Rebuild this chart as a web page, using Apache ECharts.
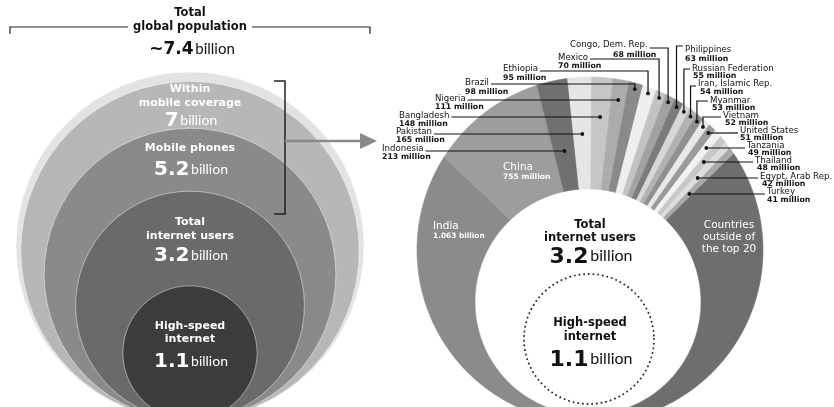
<!DOCTYPE html>
<html><head><meta charset="utf-8">
<script src="https://cdn.jsdelivr.net/npm/echarts/dist/echarts.min.js"></script>
<style>html,body{margin:0;padding:0;background:#fff}#c{width:834px;height:407px}</style>
</head><body><div id="c"></div>
<script>
// ---------------- data ----------------
const popNames = [['Total', 'global population'], ['Within', 'mobile coverage'], ['Mobile phones'], ['Total', 'internet users'], ['High-speed', 'internet']];
const popValues = [7.4, 7, 5.2, 3.2, 1.1];           // billion people
const countries = ['India', 'China', 'Indonesia', 'Pakistan', 'Bangladesh', 'Nigeria', 'Brazil', 'Ethiopia', 'Mexico',
  'Congo, Dem. Rep.', 'Philippines', 'Russian Federation', 'Iran, Islamic Rep.', 'Myanmar', 'Vietnam', 'United States',
  'Tanzania', 'Thailand', 'Egypt, Arab Rep.', 'Turkey', 'Countries outside of the top 20'];
const offlineMillions = [1063, 755, 213, 165, 148, 111, 98, 95, 70, 68, 63, 55, 54, 53, 52, 51, 49, 48, 42, 41, 1150];
const valueLabels = ['1.063 billion', '755 million', '213 million', '165 million', '148 million', '111 million', '98 million',
  '95 million', '70 million', '68 million', '63 million', '55 million', '54 million', '53 million', '52 million', '51 million',
  '49 million', '48 million', '42 million', '41 million', ''];

// ---------------- styles / layout ----------------
const sliceColors = ['#8b8b8b', '#9d9d9d', '#707070', '#e6e6e6', '#c6c6c6', '#acacac', '#8a8a8a', '#efefef', '#c3c3c3',
  '#a2a2a2', '#7b7b7b', '#d8d8d8', '#b2b2b2', '#909090', '#e9e9e9', '#9b9b9b', '#f2f2f2', '#c8c8c8', '#dddddd', '#a9a9a9', '#6e6e6e'];
const circleColors = ['#e3e3e3', '#b7b7b7', '#8a8a8a', '#6a6a6a', '#3c3c3c'];
const FONT = '"DejaVu Sans", sans-serif';
const LFONT = 'Lato, sans-serif';

// [nameX, nameY, valueX, valueY, lineY, kind, side]
const labelLayout = [null, null,
  [382, 149, 382, 157, 151, 'h', 'L'],
  [396, 132, 396, 140, 134, 'h', 'L'],
  [399, 116, 399, 124, 117, 'h', 'L'],
  [435, 99, 435, 107, 100, 'h', 'L'],
  [465, 83, 465, 92, 84, 'v', 'L'],
  [503, 69, 503, 78, 71, 'v', 'L'],
  [558, 58, 558, 66, 59, 'v', 'L'],
  [570, 45, 613, 55, 48, 'v', 'L'],
  [685, 50, 685, 59, 46, 'v', 'R'],
  [692, 69, 693, 76, 69, 'v', 'R'],
  [698, 84, 700, 92, 86, 'v', 'R'],
  [710, 101, 712, 108, 101, 'v', 'R'],
  [723, 116, 725, 123, 117, 'v', 'R'],
  [740, 131, 740, 138, 133, 'h', 'R'],
  [747, 146, 748, 153, 148, 'h', 'R'],
  [755, 161, 757, 168, 162, 'h', 'R'],
  [760, 177, 762, 184, 178, 'h', 'R'],
  [767, 192, 767, 200, 194, 'h', 'R'],
  null];

// geometry of the crescent ring
const P = {x: 590, y: 295};                 // origin of slice rays
const OUT = {x: 590, y: 250, r: 173};       // outer boundary
const INN = {x: 588, y: 302, r: 113};       // inner white disc (internet users)
const DOT = {x: 589, y: 339, r: 65};        // dotted disc (high-speed)
const START = 180;

const rad = d => d * Math.PI / 180;
function rayHit(C, th) {
  const ux = Math.sin(rad(th)), uy = -Math.cos(rad(th));
  const dx = P.x - C.x, dy = P.y - C.y;
  const b = dx * ux + dy * uy, cc = dx * dx + dy * dy - C.r * C.r;
  return -b + Math.sqrt(b * b - cc);
}
function pt(th, t) { return [P.x + t * Math.sin(rad(th)), P.y - t * Math.cos(rad(th))]; }

// area-proportional angles
const STEP = 0.05, N = Math.round(360 / STEP);
const cum = [0];
for (let k = 0; k < N; k++) {
  const th = START + (k + 0.5) * STEP;
  const ro = rayHit(OUT, th), ri = rayHit(INN, th);
  cum.push(cum[k] + 0.5 * (ro * ro - ri * ri) * rad(STEP));
}
const totalArea = cum[N];
function angleAt(frac) {
  const target = frac * totalArea;
  let k = 0;
  while (k < N && cum[k + 1] < target) k++;
  const f = (target - cum[k]) / ((cum[k + 1] - cum[k]) || 1);
  return START + (k + Math.min(1, Math.max(0, f))) * STEP;
}
const sumOff = offlineMillions.reduce((a, b) => a + b, 0);
const bounds = [START];
let acc = 0;
offlineMillions.forEach(v => { acc += v; bounds.push(angleAt(acc / sumOff)); });

function slicePoly(a, b) {
  const pts = [], n = Math.max(2, Math.ceil((b - a) / 0.4));
  for (let k = 0; k <= n; k++) { const th = a + (b - a) * k / n; pts.push(pt(th, rayHit(OUT, th))); }
  for (let k = n; k >= 0; k--) { const th = a + (b - a) * k / n; pts.push(pt(th, rayHit(INN, th))); }
  return pts;
}

const mctx = document.createElement('canvas').getContext('2d');
function textW(s, size, weight) { mctx.font = (weight || 'normal') + ' ' + size + 'px ' + FONT; return mctx.measureText(s).width; }

function tx(x, y, text, size, weight, color, align, family, extra) {
  const st = {x, y, text, fontSize: size, fontWeight: weight || 'normal', fontFamily: family || FONT, fill: color,
    textAlign: align || 'center', align: align || 'center', textVerticalAlign: 'middle', verticalAlign: 'middle'};
  return Object.assign({type: 'text', silent: true, style: st}, extra || {});
}
function numTx(x, y, num, nSize, uSize, color, extra) {
  const pad = Math.round((nSize - uSize) * 0.55 + 1);
  return Object.assign({type: 'text', silent: true, style: {
    x, y, text: '{n|' + num + '}{s| }{u|billion}', fill: color,
    textAlign: 'center', align: 'center', textVerticalAlign: 'middle', verticalAlign: 'middle',
    rich: {
      n: {fontSize: nSize, fontWeight: 'bold', fontFamily: FONT, fill: color, verticalAlign: 'bottom'},
      s: {fontSize: uSize * 0.45, fontFamily: LFONT, fill: color, verticalAlign: 'bottom'},
      u: {fontSize: uSize, fontFamily: LFONT, fill: color, verticalAlign: 'bottom', padding: [0, 0, pad, 0]}
    }}}, extra || {});
}

// ---------------- left: nested circles ----------------
const LC = {x: 190, y: 420, r0: 174};
const graphics = [];
popValues.forEach((v, i) => {
  const r = LC.r0 * Math.sqrt(v / popValues[0]);
  graphics.push({type: 'circle', z: 1, silent: true, shape: {cx: LC.x, cy: LC.y - r, r},
    style: {fill: circleColors[i], stroke: 'rgba(255,255,255,0.45)', lineWidth: 1}});
});
// title block
graphics.push(tx(190, 13, popNames[0][0], 11.5, 'bold', '#111'));
graphics.push(tx(190, 27, popNames[0][1], 11.5, 'bold', '#111'));
graphics.push(numTx(192, 50, '~' + popValues[0], 17, 15, '#111'));
graphics.push({type: 'polyline', z: 5, silent: true, shape: {points: [[10, 34], [10, 27], [128, 27]]}, style: {stroke: '#222', lineWidth: 1.2, fill: null}});
graphics.push({type: 'polyline', z: 5, silent: true, shape: {points: [[252, 27], [370, 27], [370, 34]]}, style: {stroke: '#222', lineWidth: 1.2, fill: null}});
// circle texts
const W = '#fff';
graphics.push(tx(190, 89, popNames[1][0], 11, 'bold', W, 'center', FONT, {z: 10}));
graphics.push(tx(190, 103, popNames[1][1], 11, 'bold', W, 'center', FONT, {z: 10}));
graphics.push(numTx(191, 121, popValues[1], 20, 14, W, {z: 10}));
graphics.push(tx(190, 148, popNames[2][0], 11, 'bold', W, 'center', FONT, {z: 10}));
graphics.push(numTx(191, 170, popValues[2], 20, 14, W, {z: 10}));
graphics.push(tx(190, 222, popNames[3][0], 11, 'bold', W, 'center', FONT, {z: 10}));
graphics.push(tx(190, 236, popNames[3][1], 11, 'bold', W, 'center', FONT, {z: 10}));
graphics.push(numTx(191, 256, popValues[3], 20, 14, W, {z: 10}));
graphics.push(tx(190, 326, popNames[4][0], 11, 'bold', W, 'center', FONT, {z: 10}));
graphics.push(tx(190, 339, popNames[4][1], 11, 'bold', W, 'center', FONT, {z: 10}));
graphics.push(numTx(191, 362, popValues[4], 20, 14, W, {z: 10}));
// bracket + arrow
graphics.push({type: 'polyline', z: 10, silent: true, shape: {points: [[274, 81], [285, 81], [285, 214], [274, 214]]}, style: {stroke: '#222', lineWidth: 1.5, fill: null}});
graphics.push({type: 'line', z: 10, silent: true, shape: {x1: 285, y1: 141, x2: 362, y2: 141}, style: {stroke: '#8a8a8a', lineWidth: 2.5}});
graphics.push({type: 'polygon', z: 10, silent: true, shape: {points: [[360, 133], [377, 141], [360, 149]]}, style: {fill: '#8a8a8a'}});

// ---------------- right: centre texts ----------------
graphics.push({type: 'circle', z: 10, silent: true, shape: {cx: DOT.x, cy: DOT.y, r: DOT.r},
  style: {fill: null, stroke: '#222', lineWidth: 1.9, lineDash: [0.1, 4.6], lineCap: 'round'}});
graphics.push(tx(590, 225, popNames[3][0], 11.5, 'bold', '#111', 'center', FONT, {z: 10}));
graphics.push(tx(590, 238, popNames[3][1], 11.5, 'bold', '#111', 'center', FONT, {z: 10}));
graphics.push(numTx(591, 257, popValues[3], 22, 16, '#111', {z: 10}));
graphics.push(tx(590, 323, popNames[4][0], 11.5, 'bold', '#111', 'center', FONT, {z: 10}));
graphics.push(tx(590, 337, popNames[4][1], 11.5, 'bold', '#111', 'center', FONT, {z: 10}));
graphics.push(numTx(591, 360, popValues[4], 22, 16, '#111', {z: 10}));

// ---------------- custom series renderer ----------------
function renderItem(params, api) {
  const i = params.dataIndex;
  const a = bounds[i], b = bounds[i + 1], mid = (a + b) / 2;
  const ch = [{type: 'polygon', shape: {points: slicePoly(a, b)}, style: {fill: sliceColors[i], stroke: sliceColors[i], lineWidth: 0.6}}];
  const L = labelLayout[i];
  if (L) {
    const [nx, ny, vx, vy, ly, kind, side] = L;
    let dot;
    if (kind === 'h') {
      const t = (P.y - ly) / Math.cos(rad(mid));
      dot = pt(mid, t);
      dot[1] = ly;
    } else {
      dot = pt(mid, rayHit(OUT, mid) - 6);
    }
    const sx = side === 'L' ? nx + textW(countries[i], 8.6) + 2 : nx - 2;
    const pts = kind === 'h' ? [[sx, ly], dot] : [[sx, ly], [dot[0], ly], dot];
    ch.push({type: 'polyline', z2: 20, shape: {points: pts}, style: {stroke: '#111', lineWidth: 1.2, fill: null}});
    ch.push({type: 'circle', z2: 21, shape: {cx: dot[0], cy: dot[1], r: 1.9}, style: {fill: '#111'}});
    ch.push(tx(nx, ny, countries[i], 8.6, 'normal', '#111', 'left', FONT, {z2: 22}));
    ch.push(tx(vx, vy, valueLabels[i], 7.8, 'bold', '#111', 'left', FONT, {z2: 22}));
  }
  if (i === 0) {
    ch.push(tx(433, 226, countries[0], 10.5, 'normal', '#fff', 'left', FONT, {z2: 22}));
    ch.push(tx(433, 236, valueLabels[0], 7.4, 'bold', '#fff', 'left', FONT, {z2: 22}));
  }
  if (i === 1) {
    ch.push(tx(503, 167, countries[1], 10.5, 'normal', '#fff', 'left', FONT, {z2: 22}));
    ch.push(tx(503, 177, valueLabels[1], 7.6, 'bold', '#fff', 'left', FONT, {z2: 22}));
  }
  if (i === 20) {
    ch.push(tx(729, 225, 'Countries', 10.5, 'normal', '#fff', 'center', FONT, {z2: 22}));
    ch.push(tx(729, 237, 'outside of', 10.5, 'normal', '#fff', 'center', FONT, {z2: 22}));
    ch.push(tx(729, 249, 'the top 20', 10.5, 'normal', '#fff', 'center', FONT, {z2: 22}));
  }
  return {type: 'group', children: ch};
}

const chart = echarts.init(document.getElementById('c'), null, {renderer: 'canvas'});
chart.setOption({
  animation: false,
  backgroundColor: '#fff',
  graphic: {elements: graphics},
  series: [{
    type: 'custom',
    coordinateSystem: 'none',
    silent: true,
    z: 2,
    data: offlineMillions.map((v, i) => [i, v]),
    renderItem: renderItem
  }]
});
</script>
</body></html>
